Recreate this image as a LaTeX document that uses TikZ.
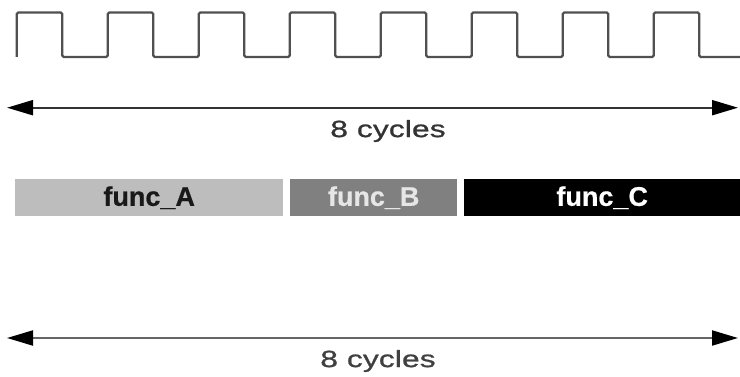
\documentclass[tikz,border=0pt]{standalone}
\usepackage{fontspec}
\setmainfont{Liberation Sans}
\newfontfamily\labfont[FakeStretch=1.36,FakeBold=0.8]{Liberation Sans}
\newfontfamily\barfont[FakeBold=0.6]{Liberation Sans Bold}
\usetikzlibrary{arrows.meta}
\definecolor{clk}{HTML}{505050}
\definecolor{barA}{HTML}{BDBDBD}
\definecolor{barB}{HTML}{808080}
\definecolor{txtB}{HTML}{E6E6E6}
\tikzset{
  clock/.style={draw=clk, line width=2.4pt, rounded corners=1.5pt},
  tip/.tip={Triangle[length=26pt,width=15pt,color=black,fill=black]},
  span/.style={line width=2pt, tip-tip},
  spanlabel/.style={font=\labfont\fontsize{23.5}{24}\selectfont, inner sep=0pt},
  bar/.style={minimum height=37pt, inner sep=0pt, anchor=north west,
              font=\barfont\fontsize{27}{28}\selectfont},
}
\begin{document}
\begin{tikzpicture}[x=1pt,y=-1pt]
\useasboundingbox (0,0) rectangle (740,377);
% clock
\draw[clock] (16.7,57)
  \foreach \i in {0,...,7} {
    -- ++(0,-44.5) -- ++(45.5,0) -- ++(0,44.5) -- ++(45.5,0)
  } -- (740,57);
% top span
\coordinate (t1) at (7,107.7);
\coordinate (t2) at (738,107.7);
\draw[span, draw=black!80] (t1) -- (t2);
\node[spanlabel, text=black!80] (tl) at (388,131) {8 cycles};
% bars
\node[bar, fill=barA, minimum width=268pt, text=black!90] (fa) at (15,179) {func\_A};
\node[bar, fill=barB, minimum width=167pt, text=txtB] (fb) at (290,179) {func\_B};
\node[bar, fill=black, minimum width=276pt, text=white] (fc) at (464,179) {func\_C};
% bottom span
\coordinate (b1) at (7,338);
\coordinate (b2) at (738,338);
\draw[span, draw=black!60] (b1) -- (b2);
\node[spanlabel, text=black!75] (bl) at (378,361) {8 cycles};
\end{tikzpicture}
\end{document}
